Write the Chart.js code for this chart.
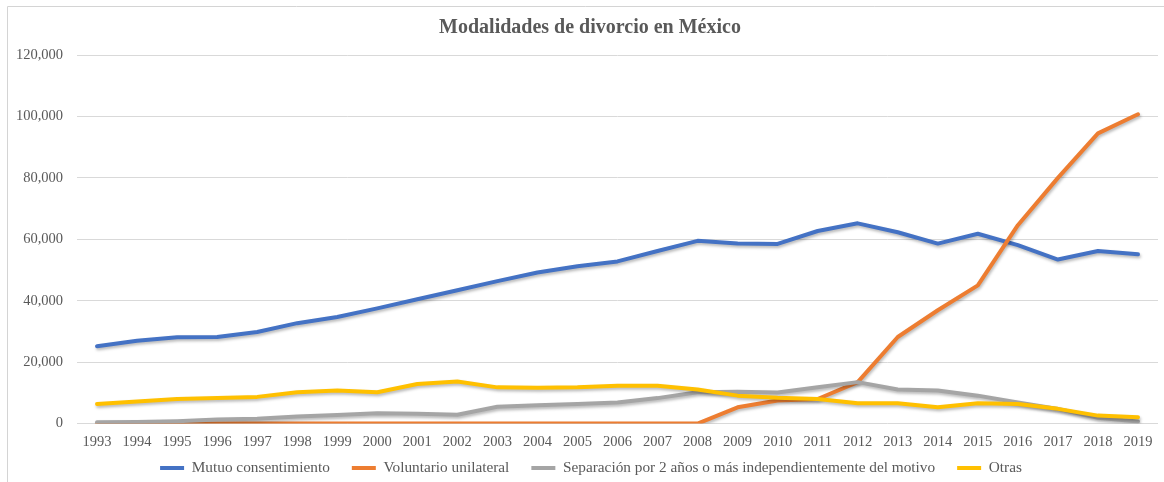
<!DOCTYPE html>
<html>
<head>
<meta charset="utf-8">
<script src="https://cdn.jsdelivr.net/npm/chart.js@4"></script>
<style>
  html, body { margin: 0; padding: 0; background: #ffffff; }
  #wrap { position: relative; width: 1164px; height: 482px; }
</style>
</head>
<body>
<div id="wrap"><canvas id="myChart" width="1164" height="482"></canvas></div>
<script>
// Years on the category axis
const years = ['1993', '1994', '1995', '1996', '1997', '1998', '1999', '2000', '2001', '2002',
  '2003', '2004', '2005', '2006', '2007', '2008', '2009', '2010', '2011', '2012',
  '2013', '2014', '2015', '2016', '2017', '2018', '2019'];

// Series values
const mutuo = [25200, 27000, 28100, 28200, 29800, 32700, 34700, 37500, 40500, 43400,
  46400, 49200, 51200, 52800, 56200, 59500, 58600, 58500, 62700, 65200,
  62300, 58600, 61800, 58100, 53400, 56200, 55100];
const voluntario = [0, 0, 0, 0, 0, 0, 0, 0, 0, 0,
  0, 0, 0, 0, 0, 0, 5300, 7500, 8000, 13500,
  28200, 36900, 45000, 64600, 80000, 94500, 100700];
const separacion = [400, 500, 800, 1300, 1600, 2300, 2800, 3400, 3200, 2900,
  5500, 6000, 6400, 6900, 8300, 10200, 10400, 10100, 11800, 13500,
  11100, 10800, 9100, 6900, 4800, 1900, 650];
const otras = [6400, 7200, 8000, 8300, 8700, 10200, 10800, 10200, 12900, 13700,
  11800, 11700, 11800, 12300, 12300, 11100, 9100, 8400, 8000, 6600,
  6600, 5300, 6600, 6400, 4800, 2600, 2100];

const seriesNames = ['Mutuo consentimiento', 'Voluntario unilateral',
  'Separación por 2 años o más independientemente del motivo', 'Otras'];
const yTicks = [0, 20000, 40000, 60000, 80000, 100000, 120000];

const serif = "'Liberation Serif', 'Times New Roman', serif";
const textGrey = '#595959';
const legendGap = 22;
const legendFont = 15.3;

// Thin frame like the Excel chart area
const framePlugin = {
  id: 'frame',
  beforeDraw(chart) {
    const ctx = chart.ctx;
    ctx.save();
    ctx.strokeStyle = '#d4d4d4';
    ctx.lineWidth = 1;
    ctx.beginPath();
    ctx.moveTo(7.5, chart.height);
    ctx.lineTo(7.5, 6.5);
    ctx.lineTo(chart.width, 6.5);
    ctx.stroke();
    ctx.restore();
  }
};

// Title and legend are centred on the whole frame, not on the padded box;
// legend row sits closer to the year labels than its padding would allow
const placePlugin = {
  id: 'place',
  afterLayout(chart) {
    if (chart.titleBlock) chart.titleBlock.left += 12;
    const lg = chart.legend;
    if (lg) {
      lg.left += 14;
      lg.top = 468 - legendGap - legendFont / 2;
      lg.bottom = chart.height;
    }
  }
};

// Soft drop shadow under every line
const shadowPlugin = {
  id: 'lineShadow',
  beforeDatasetDraw(chart) {
    const ctx = chart.ctx;
    ctx.save();
    ctx.shadowColor = 'rgba(0, 0, 0, 0.28)';
    ctx.shadowBlur = 3;
    ctx.shadowOffsetX = 1;
    ctx.shadowOffsetY = 2;
  },
  afterDatasetDraw(chart) {
    chart.ctx.restore();
  }
};

function line(label, values, color, order) {
  return {
    label: label,
    data: values,
    borderColor: color,
    backgroundColor: color,
    borderWidth: 4,
    pointRadius: 0,
    pointHoverRadius: 0,
    tension: 0,
    borderCapStyle: 'round',
    borderJoinStyle: 'round',
    fill: false,
    order: order
  };
}

const ctx = document.getElementById('myChart').getContext('2d');
new Chart(ctx, {
  type: 'line',
  data: {
    labels: years,
    datasets: [
      line(seriesNames[0], mutuo, '#4472C4', 4),
      line(seriesNames[1], voluntario, '#ED7D31', 3),
      line(seriesNames[2], separacion, '#A5A5A5', 2),
      line(seriesNames[3], otras, '#FFC000', 1)
    ]
  },
  options: {
    responsive: false,
    animation: false,
    layout: { padding: { left: 10, right: 6, top: 0, bottom: 0 } },
    plugins: {
      title: {
        display: true,
        text: 'Modalidades de divorcio en México',
        color: textGrey,
        font: { family: serif, size: 20, weight: 'bold' },
        padding: { top: 16, bottom: 15 }
      },
      legend: {
        position: 'bottom',
        maxHeight: 22,
        labels: {
          color: textGrey,
          font: { family: serif, size: legendFont },
          boxWidth: 24,
          boxHeight: 4,
          padding: legendGap,
          sort: (a, b) => a.datasetIndex - b.datasetIndex,
          generateLabels(chart) {
            const items = Chart.defaults.plugins.legend.labels.generateLabels(chart);
            items.forEach(item => { item.lineWidth = 0; });
            return items;
          }
        }
      },
      tooltip: { enabled: false }
    },
    scales: {
      x: {
        offset: true,
        grid: { display: false, drawTicks: false },
        border: { display: false },
        ticks: {
          color: textGrey,
          font: { family: serif, size: 14.5 },
          padding: 9.5,
          maxRotation: 0,
          autoSkip: false
        }
      },
      y: {
        min: 0,
        max: yTicks[yTicks.length - 1],
        grid: { color: '#d9d9d9', lineWidth: 1, drawTicks: false },
        border: { display: false },
        afterBuildTicks(scale) {
          scale.ticks = yTicks.map(v => ({ value: v }));
        },
        ticks: {
          color: textGrey,
          font: { family: serif, size: 14.5 },
          padding: 14,
          callback: (value) => value.toLocaleString('en-US')
        },
        afterFit(scale) {
          scale.width = 67;
        }
      }
    }
  },
  plugins: [framePlugin, placePlugin, shadowPlugin]
});
</script>
</body>
</html>
